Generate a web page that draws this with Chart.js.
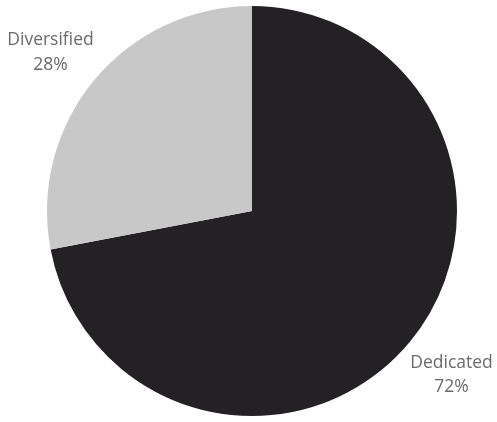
<!DOCTYPE html>
<html>
<head>
<meta charset="utf-8">
<script src="https://cdn.jsdelivr.net/npm/chart.js@4/dist/chart.umd.min.js"></script>
<style>
  html, body { margin: 0; padding: 0; background: #ffffff; }
  #wrap { width: 497px; height: 422px; position: relative; }
</style>
</head>
<body>
<div id="wrap"><canvas id="c" width="497" height="422"></canvas></div>
<script>
const categories = ["Dedicated", "Diversified"];
const shares = [72, 28];
const sliceColors = ["#232124", "#c8c8c8"];

const outsideLabels = {
  id: "outsideLabels",
  afterDatasetsDraw(chart) {
    const ctx = chart.ctx;
    const meta = chart.getDatasetMeta(0);
    ctx.save();
    ctx.font = '17.5px "Open Sans", sans-serif';
    ctx.fillStyle = "#6a6a6a";
    ctx.textAlign = "center";
    ctx.textBaseline = "middle";
    meta.data.forEach((arc, i) => {
      const p = arc.getProps(["x", "y", "startAngle", "endAngle", "outerRadius"], true);
      const mid = (p.startAngle + p.endAngle) / 2 - 0.014;
      const d = p.outerRadius * 1.255;
      const cx = p.x + Math.cos(mid) * d - 1;
      const cy = p.y + Math.sin(mid) * d + 2.5;
      ctx.fillText(categories[i], cx, cy - 12);
      ctx.fillText(shares[i] + "%", cx, cy + 12.5);
    });
    ctx.restore();
  }
};

new Chart(document.getElementById("c"), {
  type: "pie",
  data: {
    labels: categories,
    datasets: [{
      data: shares,
      backgroundColor: sliceColors,
      borderWidth: 0
    }]
  },
  options: {
    responsive: false,
    animation: false,
    layout: { padding: { left: 7, right: 0, top: 6, bottom: 6 } },
    plugins: {
      legend: { display: false },
      tooltip: { enabled: false }
    }
  },
  plugins: [outsideLabels]
});
</script>
</body>
</html>
